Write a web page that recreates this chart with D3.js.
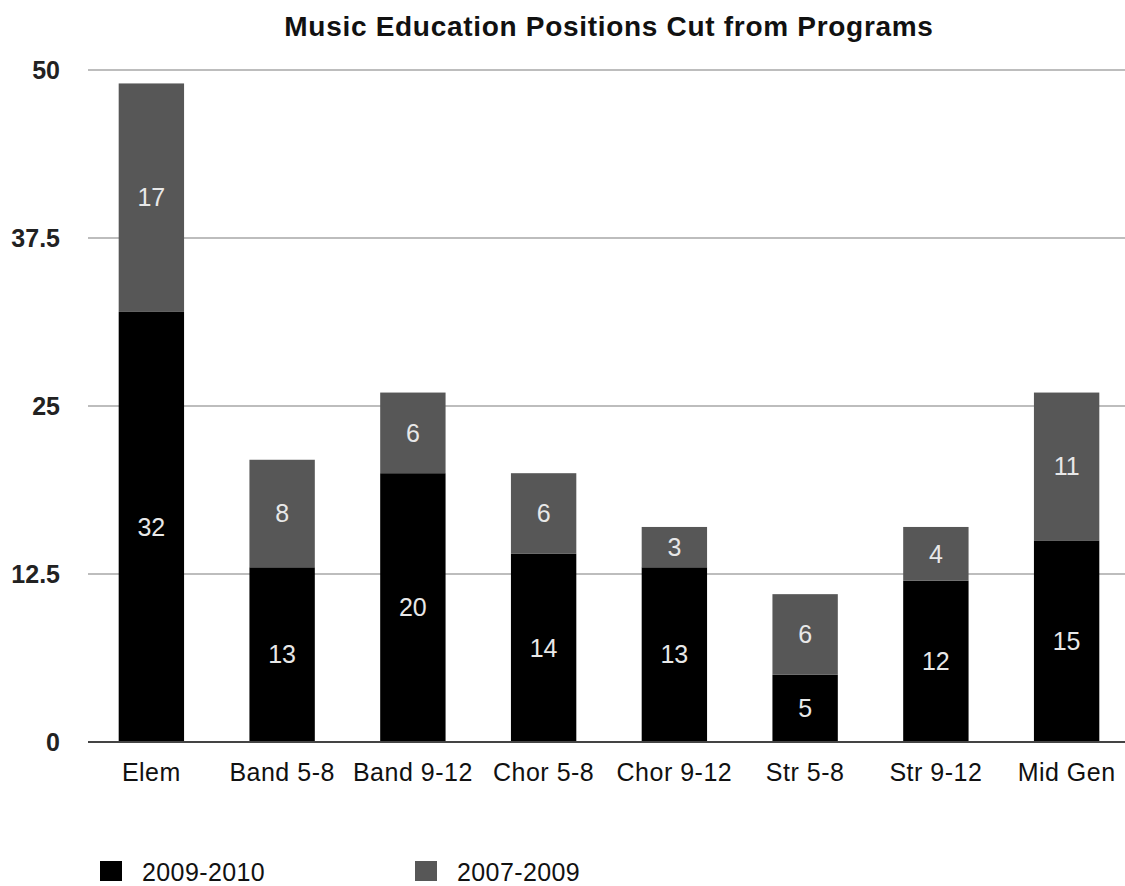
<!DOCTYPE html>
<html>
<head>
<meta charset="utf-8">
<script src="https://cdn.jsdelivr.net/npm/d3@7"></script>
<style>
  html, body { margin: 0; padding: 0; background: #fff; }
  svg { display: block; font-family: "Liberation Sans", Arial, Helvetica, sans-serif; }
</style>
</head>
<body>
<svg id="chart" width="1125" height="886"></svg>
<script>
const categories = ["Elem", "Band 5-8", "Band 9-12", "Chor 5-8", "Chor 9-12", "Str 5-8", "Str 9-12", "Mid Gen"];
const series2009_2010 = [32, 13, 20, 14, 13, 5, 12, 15];
const series2007_2009 = [17, 8, 6, 6, 3, 6, 4, 11];
const seriesNames = ["2009-2010", "2007-2009"];
const seriesColors = ["#000000", "#575757"];
const yTicks = [0, 12.5, 25, 37.5, 50];
const yTickLabels = ["0", "12.5", "25", "37.5", "50"];
const title = "Music Education Positions Cut from Programs";

const svg = d3.select("#chart");
const W = 1125, H = 886;

const x = d3.scaleBand().domain(categories).range([86, 1132]).paddingInner(0.5).paddingOuter(0.25);
const y = d3.scaleLinear().domain([0, 50]).range([742, 70]);

// title
svg.append("text")
  .attr("x", 609).attr("y", 36)
  .attr("text-anchor", "middle")
  .attr("font-weight", "bold")
  .attr("font-size", 28)
  .attr("letter-spacing", 0.7)
  .attr("fill", "#111")
  .text(title);

// gridlines
const grid = svg.append("g");
grid.selectAll("line").data(yTicks.filter(d => d > 0)).join("line")
  .attr("x1", 88).attr("x2", W)
  .attr("y1", d => y(d)).attr("y2", d => y(d))
  .attr("stroke", "#bdbdbd").attr("stroke-width", 2);

// y tick labels
const yAxis = d3.axisLeft(y).tickValues(yTicks).tickSize(0).tickPadding(0)
  .tickFormat((d, i) => yTickLabels[i]);
const yg = svg.append("g").attr("transform", "translate(60,0)").call(yAxis);
yg.select(".domain").remove();
yg.selectAll("text").attr("font-size", 25).attr("font-weight", "bold").attr("fill", "#222")
  .attr("font-family", "'Liberation Sans', Arial, sans-serif");

// stacked data
const rows = categories.map((c, i) => ({ cat: c, a: series2009_2010[i], b: series2007_2009[i] }));
const stack = d3.stack().keys(["a", "b"])(rows);

const layers = svg.append("g").selectAll("g").data(stack).join("g")
  .attr("fill", (d, i) => seriesColors[i]);
layers.selectAll("rect").data(d => d).join("rect")
  .attr("x", d => x(d.data.cat))
  .attr("width", x.bandwidth())
  .attr("y", d => y(d[1]))
  .attr("height", d => y(d[0]) - y(d[1]));

// value labels
const lab = svg.append("g");
stack.forEach((layer) => {
  lab.selectAll(null).data(layer).join("text")
    .attr("x", d => x(d.data.cat) + x.bandwidth() / 2)
    .attr("y", d => (y(d[0]) + y(d[1])) / 2)
    .attr("dy", "0.35em")
    .attr("text-anchor", "middle")
    .attr("font-size", 25)
    .attr("fill", "#e8e8e8")
    .text(d => d[1] - d[0]);
});

// baseline
svg.append("line")
  .attr("x1", 88).attr("x2", W)
  .attr("y1", y(0)).attr("y2", y(0))
  .attr("stroke", "#444").attr("stroke-width", 2);

// x axis labels
const xAxis = d3.axisBottom(x).tickSize(0).tickPadding(0);
const xg = svg.append("g").attr("transform", `translate(0,${y(0) + 30})`).call(xAxis);
xg.select(".domain").remove();
xg.selectAll("text").attr("font-size", 25).attr("letter-spacing", 0.5).attr("fill", "#111").attr("dy", "0.35em")
  .attr("font-family", "'Liberation Sans', Arial, sans-serif");

// legend
const legX = [100, 415];
const leg = svg.append("g").selectAll("g").data(seriesNames).join("g")
  .attr("transform", (d, i) => `translate(${legX[i]},861)`);
leg.append("rect").attr("width", 22).attr("height", 20).attr("fill", (d, i) => seriesColors[i]);
leg.append("text").attr("x", 42).attr("y", 11).attr("dy", "0.35em")
  .attr("font-size", 25).attr("letter-spacing", 0.4).attr("fill", "#111").text(d => d);
</script>
</body>
</html>
